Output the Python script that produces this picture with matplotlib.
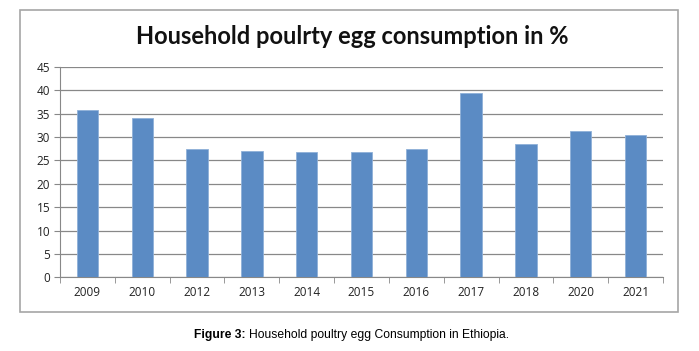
import numpy as np
import matplotlib
matplotlib.use('Agg')
import matplotlib.pyplot as plt
from matplotlib.patches import Rectangle

# ── Data ────────────────────────────────────────────────────────────
years  = ['2009', '2010', '2012', '2013', '2014', '2015', '2016', '2017', '2018', '2020', '2021']
values = [35.8, 34.1, 27.5, 27.0, 26.8, 26.8, 27.5, 39.3, 28.5, 31.3, 30.3]
yticks = [0, 5, 10, 15, 20, 25, 30, 35, 40, 45]

W, H = 6.99, 3.51
fig = plt.figure(figsize=(W, H), dpi=100)

# chart frame (Excel-like box)
fig.patches.append(Rectangle((20/699, 1-312/351), 658/699, 302/351, transform=fig.transFigure,
                             fill=False, ec='#a6a6a6', lw=1.2))

ax = fig.add_axes([60/699, 1-277.3/351, 603/699, 210.6/351])
x = np.arange(len(years))
ax.bar(x, values, width=0.39, color='#5b8bc4', edgecolor='#8fb0d8', lw=0.6, zorder=3)

ax.set_xlim(-0.5, len(years) - 0.5)
ax.set_ylim(0, 45)
ax.set_yticks(yticks)
ax.set_yticklabels([str(t) for t in yticks], fontsize=8.5, family='Open Sans', color='#222222')
ax.set_xticks(x)
ax.set_xticklabels(years, fontsize=8.5, family='Open Sans', color='#222222')
ax.tick_params(axis='x', length=0, pad=6)
ax.tick_params(axis='y', length=4, direction='out', color='#888888', pad=3)
ax.set_xticks(np.arange(-0.5, len(years)), minor=True)
ax.tick_params(axis='x', which='minor', length=4, color='#888888', direction='out')

ax.grid(axis='y', color='#888888', lw=0.9, zorder=0)
for s in ['top', 'right']:
    ax.spines[s].set_visible(False)
ax.spines['left'].set_color('#888888')
ax.spines['bottom'].set_color('#888888')

fig.text(352/699, 1-36/351, 'Household poulrty egg consumption in %', ha='center', va='center',
         fontsize=17, fontweight='bold', family='Lato', color='#111111')

# caption
t1 = fig.text(0.5, 1-335/351, 'Figure 3: ', fontsize=8.7, fontweight='bold',
              family='Liberation Sans', ha='right', va='center')
fig.canvas.draw()
bb = t1.get_window_extent()
t2 = fig.text(0, 1-335/351, 'Household poultry egg Consumption in Ethiopia.', fontsize=8.7,
              family='Liberation Sans', ha='left', va='center')
bb2 = t2.get_window_extent()
total = bb.width + bb2.width
x0 = 352 - total/2
t1.set_position((x0/699, 1-335/351)); t1.set_ha('left')
t2.set_position(((x0 + bb.width)/699, 1-335/351))

fig.savefig('out.png', dpi=100)
